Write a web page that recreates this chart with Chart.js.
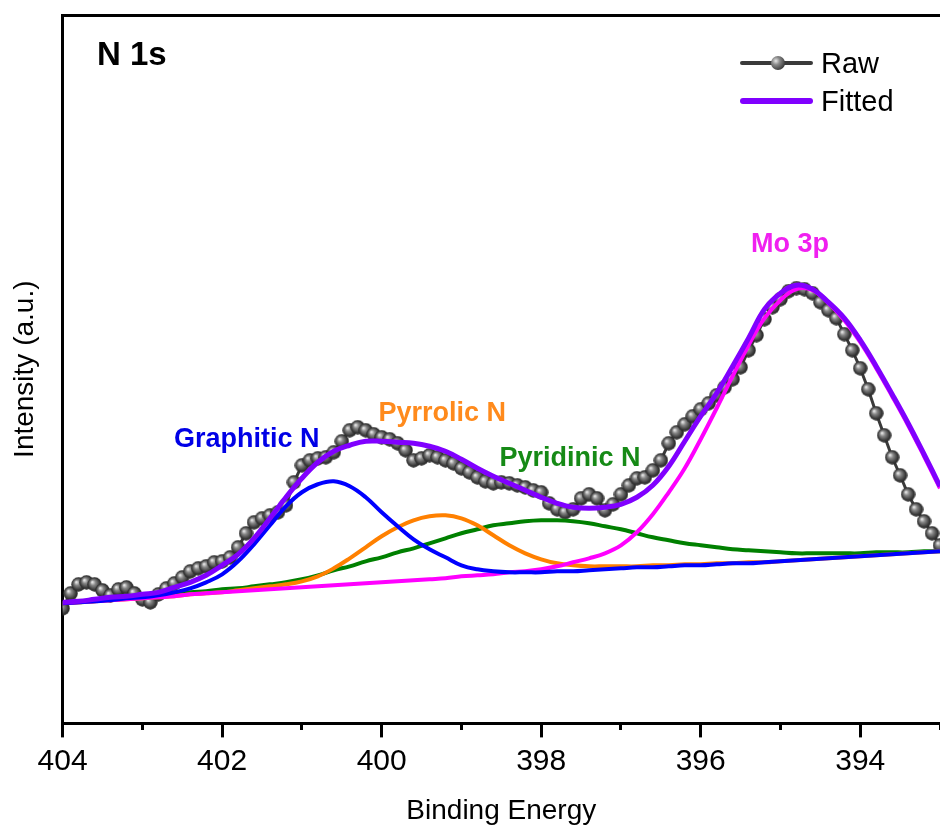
<!DOCTYPE html>
<html>
<head>
<meta charset="utf-8">
<title>N 1s</title>
<script src="https://cdn.jsdelivr.net/npm/chart.js@4.4.1/dist/chart.umd.min.js"></script>
<style>
  body { margin: 0; background: #fff; }
  #wrap { position: relative; width: 940px; height: 830px; }
  #legend { position: absolute; left: 740px; top: 44px; font-family: Arial, "Liberation Sans", sans-serif; font-size: 29px; color: #000; }
  #legend .row { display: flex; align-items: center; height: 38px; }
  #legend .mark { position: relative; width: 73px; height: 38px; }
  #legend .line { position: absolute; left: 0; top: 50%; width: 73px; }
  #legend .ball { position: absolute; left: 31px; top: 12px; width: 14px; height: 14px; border-radius: 50%;
    background: radial-gradient(circle at 35% 35%, #e6e6e6 0, #8a8a8a 30%, #3a3a3a 75%, #222 100%); }
  #legend .txt { margin-left: 8px; }
</style>
</head>
<body>
<div id="wrap">
  <canvas id="xpsChart" width="940" height="830"></canvas>
  <div id="legend"></div>
</div>
<script>
// raw spectrum, 0.1 eV steps
const rawEnergy = [404.0, 403.9, 403.8, 403.7, 403.6, 403.5, 403.4, 403.3, 403.2, 403.1,
    403.0, 402.9, 402.8, 402.7, 402.6, 402.5, 402.4, 402.3, 402.2, 402.1,
    402.0, 401.9, 401.8, 401.7, 401.6, 401.5, 401.4, 401.3, 401.2, 401.1,
    401.0, 400.9, 400.8, 400.7, 400.6, 400.5, 400.4, 400.3, 400.2, 400.1,
    400.0, 399.9, 399.8, 399.7, 399.6, 399.5, 399.4, 399.3, 399.2, 399.1,
    399.0, 398.9, 398.8, 398.7, 398.6, 398.5, 398.4, 398.3, 398.2, 398.1,
    398.0, 397.9, 397.8, 397.7, 397.6, 397.5, 397.4, 397.3, 397.2, 397.1,
    397.0, 396.9, 396.8, 396.7, 396.6, 396.5, 396.4, 396.3, 396.2, 396.1,
    396.0, 395.9, 395.8, 395.7, 395.6, 395.5, 395.4, 395.3, 395.2, 395.1,
    395.0, 394.9, 394.8, 394.7, 394.6, 394.5, 394.4, 394.3, 394.2, 394.1,
    394.0, 393.9, 393.8, 393.7, 393.6, 393.5, 393.4, 393.3, 393.2, 393.1, 393.0];
const rawIntensity = [115, 130, 139, 141, 139, 133, 128, 134, 136, 130,
    124, 121, 129, 135, 140, 146, 152, 155, 157, 161,
    162, 166, 176, 190, 201, 205, 208, 211, 218, 241,
    258, 263, 265, 266, 271, 282, 293, 296, 293, 289,
    286, 284, 280, 273, 263, 265, 268, 266, 263, 260,
    255, 251, 246, 242, 240, 241, 240, 238, 236, 233,
    231, 220, 214, 211, 214, 225, 229, 225, 213, 219,
    229, 238, 245, 246, 253, 263, 280, 291, 299, 307,
    314, 320, 328, 336, 344, 356, 373, 388, 404, 416,
    424, 432, 435, 434, 430, 421, 413, 405, 389, 373,
    355, 334, 310, 288, 266, 248, 229, 214, 202, 190, 178];

// fit curves, 0.2 eV steps
const fitEnergy = [404.0, 403.8, 403.6, 403.4, 403.2, 403.0, 402.8, 402.6, 402.4, 402.2,
    402.0, 401.8, 401.6, 401.4, 401.2, 401.0, 400.8, 400.6, 400.4, 400.2,
    400.0, 399.8, 399.6, 399.4, 399.2, 399.0, 398.8, 398.6, 398.4, 398.2,
    398.0, 397.8, 397.6, 397.4, 397.2, 397.0, 396.8, 396.6, 396.4, 396.2,
    396.0, 395.8, 395.6, 395.4, 395.2, 395.0, 394.8, 394.6, 394.4, 394.2,
    394.0, 393.8, 393.6, 393.4, 393.2, 393.0];
const fitted = [121, 122, 124, 126, 127, 129, 131, 136, 141, 148,
    158, 169, 185, 205, 226, 245, 261, 272, 278, 282,
    282, 281, 280, 277, 272, 264, 255, 247, 240, 233,
    226, 220, 216, 215, 216, 219, 226, 238, 257, 282,
    307, 330, 357, 385, 414, 430, 438, 434, 421, 405,
    383, 357, 329, 300, 269, 237];
const graphiticN = [120, 121, 122, 123, 125, 126, 128, 131, 135, 141,
    149, 162, 179, 198, 217, 231, 239, 242, 237, 226,
    211, 197, 184, 174, 166, 158, 154, 152, 151, 151,
    151, 152, 152, 153, 154, 155, 156, 156, 157, 158,
    158, 159, 160, 160, 161, 162, 163, 164, 165, 166,
    167, 168, 169, 170, 171, 172];
const pyrrolicN = [120, 121, 122, 123, 124, 125, 126, 127, 129, 130,
    131, 133, 135, 137, 139, 142, 147, 155, 165, 176,
    187, 196, 203, 207, 208, 205, 198, 188, 178, 170,
    164, 160, 158, 157, 157, 157, 157, 158, 158, 159,
    159, 160, 160, 161, 161, 162, 163, 164, 165, 166,
    167, 168, 169, 170, 171, 172];
const pyridinicN = [120, 121, 122, 124, 125, 126, 128, 129, 131, 132,
    134, 135, 137, 139, 141, 144, 148, 153, 157, 162,
    166, 171, 175, 180, 185, 190, 194, 198, 200, 202,
    203, 203, 202, 200, 197, 194, 190, 186, 183, 180,
    178, 176, 174, 173, 172, 171, 170, 170, 170, 170,
    170, 171, 171, 171, 172, 172];
const mo3p = [120, 121, 122, 123, 124, 125, 126, 127, 129, 130,
    131, 132, 133, 134, 135, 136, 137, 138, 139, 140,
    141, 142, 143, 144, 145, 147, 148, 149, 151, 152,
    154, 157, 161, 165, 170, 178, 191, 209, 231, 255,
    284, 315, 347, 378, 405, 423, 434, 433, 420, 403,
    381, 355, 327, 298, 267, 235];

const peakLabels = ['Graphitic N', 'Pyrrolic N', 'Pyridinic N', 'Mo 3p'];
const xTicksMajor = [404, 402, 400, 398, 396, 394];

const FONT = 'Arial, "Liberation Sans", sans-serif';
const peakColors = ['#0000ff', '#ff8000', '#008000', '#ff00ff'];
const peakTextColors = ['#0000e6', '#ff8a1c', '#168a16', '#f020f0'];
// label anchor (energy, intensity) for each peak label
const labelSpots = [[401.69, 276], [399.24, 302], [397.64, 257], [394.88, 471]];

function pairs(xs, ys) {
    return ys.map((v, i) => ({ x: xs[i], y: v }));
}

// shaded sphere used as raw data marker
function makeBall() {
    const c = document.createElement('canvas');
    c.width = 15; c.height = 15;
    const g2 = c.getContext('2d');
    const grad = g2.createRadialGradient(5.2, 5.2, 0.5, 7.5, 7.5, 7.5);
    grad.addColorStop(0, '#e6e6e6');
    grad.addColorStop(0.3, '#8a8a8a');
    grad.addColorStop(0.75, '#3a3a3a');
    grad.addColorStop(1, '#222');
    g2.fillStyle = grad;
    g2.beginPath();
    g2.arc(7.5, 7.5, 7.2, 0, 2 * Math.PI);
    g2.fill();
    return c;
}

const peakText = {
    id: 'peakText',
    afterDatasetsDraw(chart) {
        const { ctx, scales: { x, y } } = chart;
        ctx.save();
        ctx.textAlign = 'center';
        ctx.textBaseline = 'alphabetic';
        ctx.font = 'bold 27px ' + FONT;
        peakLabels.forEach((t, i) => {
            ctx.fillStyle = peakTextColors[i];
            ctx.fillText(t, x.getPixelForValue(labelSpots[i][0]), y.getPixelForValue(labelSpots[i][1]));
        });
        ctx.textAlign = 'left';
        ctx.font = 'bold 33px ' + FONT;
        ctx.fillStyle = '#000';
        ctx.fillText('N 1s', x.getPixelForValue(403.57), y.getPixelForValue(658));
        ctx.restore();
    }
};

const htmlLegend = {
    id: 'htmlLegend',
    afterUpdate(chart) {
        const box = document.getElementById('legend');
        box.innerHTML = '';
        chart.data.datasets.filter(ds => ds.label === 'Raw' || ds.label === 'Fitted')
            .sort((a, b) => (a.label === 'Raw' ? -1 : 1))
            .forEach(ds => {
                const row = document.createElement('div');
                row.className = 'row';
                const mark = document.createElement('span');
                mark.className = 'mark';
                const line = document.createElement('span');
                line.className = 'line';
                const w = ds.label === 'Raw' ? 4 : 6;
                line.style.height = w + 'px';
                line.style.marginTop = (-w / 2) + 'px';
                line.style.background = ds.borderColor;
                line.style.borderRadius = '3px';
                mark.appendChild(line);
                if (ds.label === 'Raw') {
                    const ball = document.createElement('span');
                    ball.className = 'ball';
                    mark.appendChild(ball);
                }
                const txt = document.createElement('span');
                txt.className = 'txt';
                txt.textContent = ds.label;
                row.appendChild(mark);
                row.appendChild(txt);
                box.appendChild(row);
            });
    }
};

function compLine(label, data, color) {
    return {
        label: label,
        data: pairs(fitEnergy, data),
        borderColor: color,
        borderWidth: 4,
        pointRadius: 0,
        tension: 0.4,
        fill: false
    };
}

const ctx = document.getElementById('xpsChart');
new Chart(ctx, {
    type: 'line',
    data: {
        datasets: [
            {
                label: 'Fitted',
                data: pairs(fitEnergy, fitted),
                borderColor: '#8000ff',
                borderWidth: 5,
                pointRadius: 0,
                tension: 0.4
            },
            compLine(peakLabels[0], graphiticN, peakColors[0]),
            compLine(peakLabels[3], mo3p, peakColors[3]),
            compLine(peakLabels[1], pyrrolicN, peakColors[1]),
            compLine(peakLabels[2], pyridinicN, peakColors[2]),
            {
                label: 'Raw',
                data: pairs(rawEnergy, rawIntensity),
                borderColor: '#3a3a3a',
                borderWidth: 3,
                pointStyle: makeBall(),
                pointRadius: 7,
                tension: 0
            }
        ]
    },
    options: {
        responsive: false,
        animation: false,
        layout: { autoPadding: false, padding: { left: 8, top: 15, right: 0, bottom: 1 } },
        plugins: {
            legend: { display: false },
            tooltip: { enabled: false }
        },
        scales: {
            x: {
                type: 'linear',
                reverse: true,
                min: 393,
                max: 404,
                afterFit: (s) => { s.paddingLeft = 0; s.paddingRight = 0; },
                border: { display: true, width: 3, color: '#000' },
                grid: {
                    display: true,
                    drawOnChartArea: false,
                    drawTicks: true,
                    tickLength: 14,
                    tickWidth: 3,
                    tickColor: '#000',
                    tickBorderDash: (c) => (xTicksMajor.includes(c.tick.value) ? [] : [5, 40])
                },
                ticks: {
                    stepSize: 1,
                    autoSkip: false,
                    maxRotation: 0,
                    padding: 6,
                    color: '#000',
                    font: { family: FONT, size: 30 },
                    callback: (v) => (xTicksMajor.includes(v) ? v : '')
                },
                title: {
                    display: true,
                    text: 'Binding Energy',
                    color: '#000',
                    font: { family: FONT, size: 28 },
                    padding: { top: 9, bottom: 1 }
                }
            },
            x2: {
                type: 'linear',
                position: 'top',
                min: 393,
                max: 404,
                reverse: true,
                afterFit: (s) => { s.paddingLeft = 0; s.paddingRight = 0; },
                border: { display: true, width: 3, color: '#000' },
                grid: { display: false, drawTicks: false },
                ticks: { display: false, callback: () => '' }
            },
            y: {
                min: 0,
                max: 708,
                border: { display: true, width: 3, color: '#000' },
                grid: { display: false },
                ticks: { display: false },
                title: {
                    display: true,
                    text: 'Intensity (a.u.)',
                    color: '#000',
                    font: { family: FONT, size: 28 },
                    padding: { top: 0, bottom: 13 }
                }
            }
        }
    },
    plugins: [peakText, htmlLegend]
});
</script>
</body>
</html>
